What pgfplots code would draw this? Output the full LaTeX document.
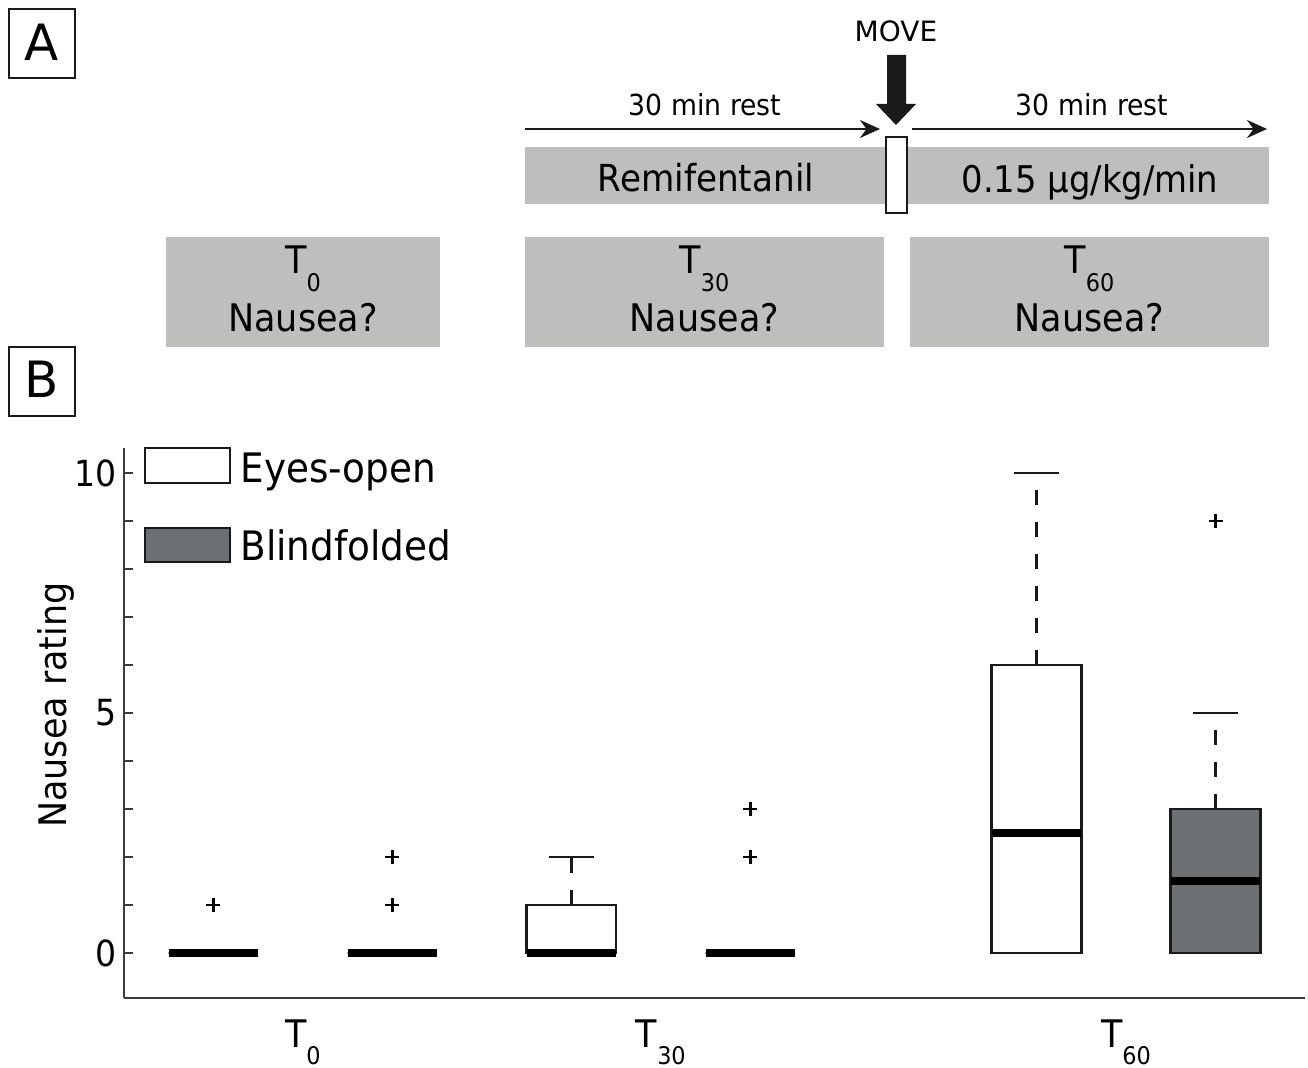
\documentclass[border=0pt]{standalone}
\usepackage{pgfplots}
\pgfplotsset{compat=1.18}
\usepackage{fontspec}
\setmainfont{DejaVu Sans}[FakeStretch=0.92]
\newfontfamily\widefont{DejaVu Sans}
\usetikzlibrary{arrows.meta}
\usepgfplotslibrary{statistics}

\definecolor{panelgray}{RGB}{190,191,189}
\definecolor{blindgray}{RGB}{108,112,114}
\definecolor{ink}{RGB}{26,26,26}
\definecolor{axisgray}{RGB}{60,60,60}

\newcommand{\fs}[1]{\fontsize{#1}{#1}\selectfont}
\newcommand{\Tsub}[1]{T\raisebox{-0.47em}{\scalebox{0.64}{#1}}}

% whiskers: dashed stem, solid cap
\pgfplotsset{
  /pgfplots/boxplot/draw/upper whisker/.code={%
    \draw[/pgfplots/boxplot/every whisker/.try, dash pattern=on 7.5pt off 8.5pt]
      (boxplot cs:\pgfplotsboxplotvalue{upper quartile}) --
      (boxplot cs:\pgfplotsboxplotvalue{upper whisker});
    \draw[/pgfplots/boxplot/every whisker/.try]
      (boxplot whisker cs:\pgfplotsboxplotvalue{upper whisker},0) --
      (boxplot whisker cs:\pgfplotsboxplotvalue{upper whisker},1);
  },
  /pgfplots/boxplot/draw/lower whisker/.code={%
    \draw[/pgfplots/boxplot/every whisker/.try]
      (boxplot whisker cs:\pgfplotsboxplotvalue{lower whisker},0) --
      (boxplot whisker cs:\pgfplotsboxplotvalue{lower whisker},1);
  },
  nbox/.style={forget plot, ink, line width=1.35pt,
    mark=+, mark size=3.5pt, mark options={solid, black, line width=1.4pt},
    boxplot/draw direction=y,
    boxplot/box extend=0.5, boxplot/whisker extend=0.25,
    boxplot/every median/.style={black, line width=4.3pt},
    boxplot/every box/.style={draw=ink, fill=#1}},
}

\begin{document}
\begin{tikzpicture}
\begin{scope}[x=0.5pt,y=-0.5pt]
\useasboundingbox (0,0) rectangle (1308,1068);
% panel letters
\draw[ink,line width=1.4pt] (9,9) rectangle (75,78);
\node[anchor=base,font=\widefont\fs{25}] at (42,61) {A};
\draw[ink,line width=1.4pt] (9,347) rectangle (75,416);
\node[anchor=base,font=\widefont\fs{25}] at (42,398) {B};
% infusion bar
\fill[panelgray] (525,147) rectangle (1269,204);
\node[anchor=base,font=\fs{18.6}] at (706,192) {Remifentanil};
\node[anchor=base,font=\fs{18.4}] at (1090,193) {0.15 μg/kg/min};
\draw[ink,line width=1.2pt,fill=white] (886,137) rectangle (907,213);
% time arrows
\draw[ink,line width=1.1pt,-{Stealth[length=10pt,width=9pt]}] (525,129) -- (880,129);
\draw[ink,line width=1.1pt,-{Stealth[length=10pt,width=9pt]}] (912,129) -- (1267,129);
\node[anchor=base,font=\fs{14.5}] at (705,116) {30 min rest};
\node[anchor=base,font=\fs{14.5}] at (1092,116) {30 min rest};
\node[anchor=base,font=\widefont\fs{14}] at (896,42) {MOVE};
\fill[ink] (887,55) -- (906,55) -- (906,104) -- (916,104) -- (896,125)
  -- (876,104) -- (887,104) -- cycle;
% question boxes
\foreach \xa/\xb/\lab in {166/440/0,525/884/30,910/1269/60}{
  \fill[panelgray] (\xa,237) rectangle (\xb,347);
  \node[anchor=base,font=\fs{19}] at ({(\xa+\xb)/2},274) {\Tsub{\lab}};
  \node[anchor=base,font=\fs{19}] at ({(\xa+\xb)/2},332) {Nausea?};
}
\node[rotate=90,anchor=base,font=\fs{19}] at (67,705) {Nausea rating};
% legend
\draw[ink,line width=1.3pt,fill=white] (145,448) rectangle (230,483);
\node[anchor=base west,inner sep=0pt,font=\fs{20.3}] at (240,483) {Eyes-open};
\draw[ink,line width=1.3pt,fill=blindgray] (145,528) rectangle (230,562);
\node[anchor=base west,inner sep=0pt,font=\fs{20.3}] at (240,561) {Blindfolded};
\end{scope}

\begin{axis}[
  at={(62pt,-499pt)}, anchor=south west,
  scale only axis, width=590.5pt, height=275pt,
  xmin=0.5, xmax=7.1, ymin=-0.9375, ymax=10.52,
  axis x line*=bottom, axis y line*=left,
  axis line style={-, draw=axisgray, line width=1pt},
  xtick={1.5,3.5,6.1},
  xticklabels={\Tsub{0},\Tsub{30},\Tsub{60}},
  xtick style={draw=none},
  xticklabel style={anchor=north, inner sep=0pt, yshift=-10.5pt, font=\fs{19}},
  ytick={0,...,10},
  yticklabels={0,,,,,5,,,,,10},
  ytick style={draw=axisgray, line width=1pt},
  tick align=inside, major tick length=4.5pt,
  yticklabel style={anchor=east, inner sep=0pt, xshift=-3.5pt, font=\fs{18}},
  /pgf/number format/assume math mode=true,
  clip=false,
]
% T0
\addplot[nbox=white, boxplot prepared={draw position=1,
  lower whisker=0, lower quartile=0, median=0, upper quartile=0, upper whisker=0}]
  table[row sep=\\, y index=0] {y\\ 1\\};
\addplot[nbox=blindgray, boxplot prepared={draw position=2,
  lower whisker=0, lower quartile=0, median=0, upper quartile=0, upper whisker=0}]
  table[row sep=\\, y index=0] {y\\ 1\\ 2\\};
% T30
\addplot[nbox=white, boxplot prepared={draw position=3,
  lower whisker=0, lower quartile=0, median=0, upper quartile=1, upper whisker=2}]
  coordinates {};
\addplot[nbox=blindgray, boxplot prepared={draw position=4,
  lower whisker=0, lower quartile=0, median=0, upper quartile=0, upper whisker=0}]
  table[row sep=\\, y index=0] {y\\ 2\\ 3\\};
% T60
\addplot[nbox=white, boxplot prepared={draw position=5.6,
  lower whisker=0, lower quartile=0, median=2.5, upper quartile=6, upper whisker=10}]
  coordinates {};
\addplot[nbox=blindgray, boxplot prepared={draw position=6.6,
  lower whisker=0, lower quartile=0, median=1.5, upper quartile=3, upper whisker=5}]
  table[row sep=\\, y index=0] {y\\ 9\\};
\end{axis}
\end{tikzpicture}
\end{document}
